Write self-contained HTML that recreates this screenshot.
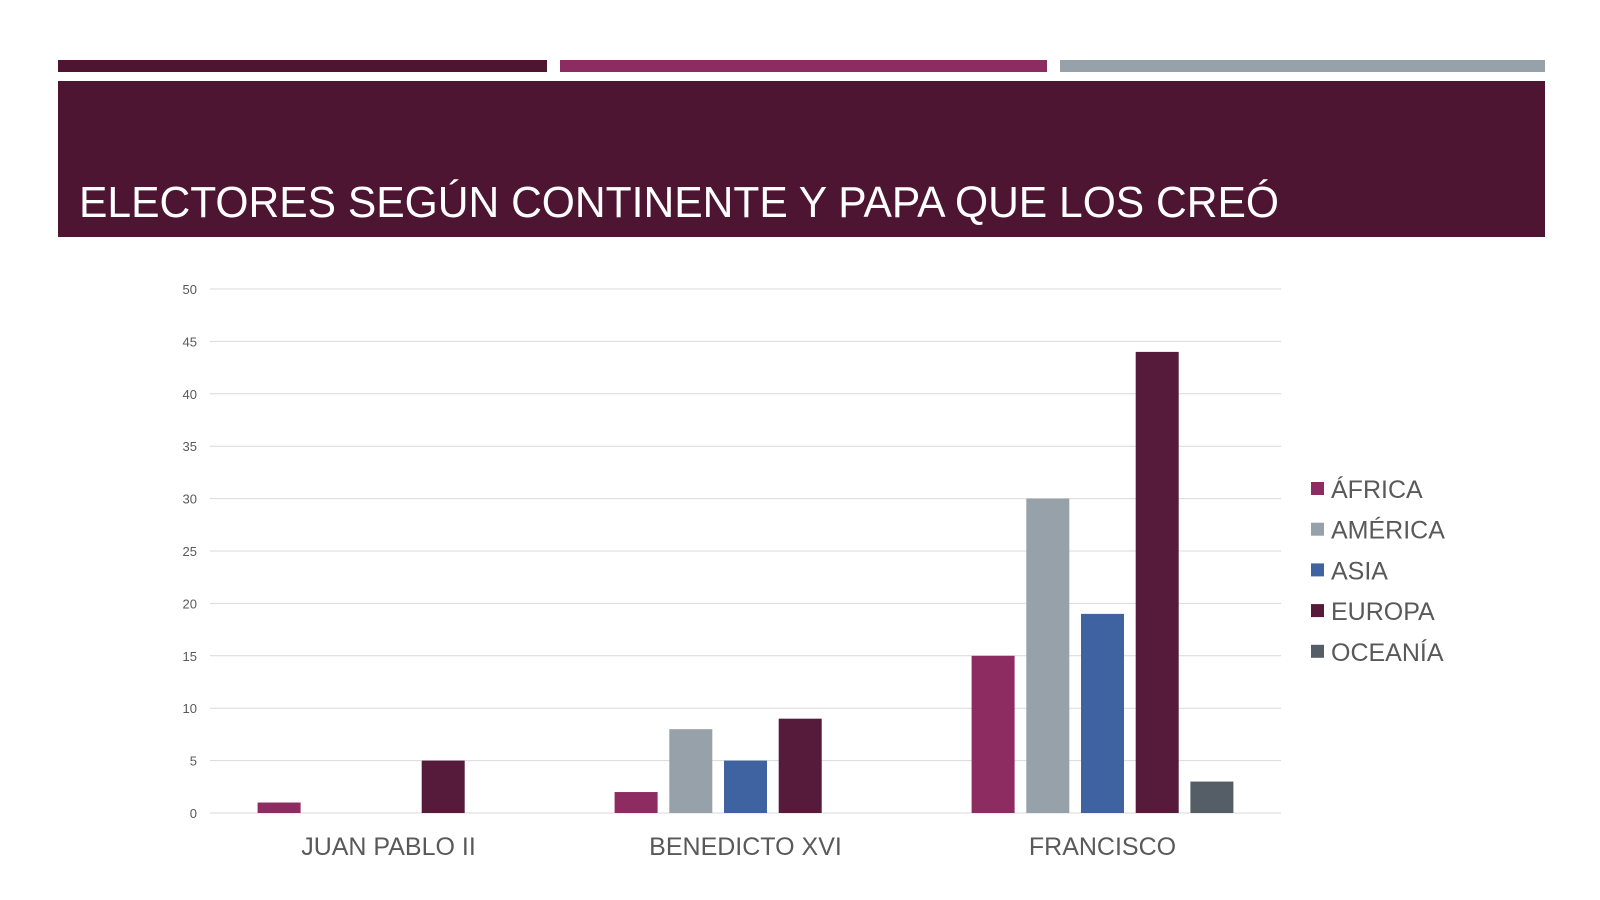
<!DOCTYPE html>
<html><head><meta charset="utf-8"><style>
body{margin:0;background:#fff;font-family:"Liberation Sans",sans-serif;}
svg{display:block}
</style></head><body>
<svg width="1600" height="900" viewBox="0 0 1600 900">
<rect x="58" y="60" width="489" height="12" fill="#4e1533"/>
<rect x="560" y="60" width="487" height="12" fill="#8c2c60"/>
<rect x="1060" y="60" width="485" height="12" fill="#97a1aa"/>
<rect x="58" y="81" width="1487" height="156" fill="#4e1533"/>
<text x="79" y="217" fill="#fff" font-size="44" textLength="1200" lengthAdjust="spacingAndGlyphs">ELECTORES SEGÚN CONTINENTE Y PAPA QUE LOS CREÓ</text>
<g id="grid"></g><g id="bars"></g><g id="labels"></g><g id="legend"></g>
</svg>
<script>
const categories=["JUAN PABLO II","BENEDICTO XVI","FRANCISCO"];
const seriesNames=["ÁFRICA","AMÉRICA","ASIA","EUROPA","OCEANÍA"];
const africa=[1,2,15];
const america=[0,8,30];
const asia=[0,5,19];
const europa=[5,9,44];
const oceania=[0,0,3];
const yTicks=[0,5,10,15,20,25,30,35,40,45,50];
const series=[africa,america,asia,europa,oceania];
const colors=["#8c2c60","#97a1aa","#3f62a0","#561a3a","#555e66"];
const NS="http://www.w3.org/2000/svg";
const x0=210,x1=1281,yTop=289,yBot=813,yMax=50;
const y=v=>yBot-(v/yMax)*(yBot-yTop);
const gw=(x1-x0)/categories.length;
const gc=i=>x0+gw*(i+0.5);
const bw=43,step=54.7;
function mk(t,a,p){const e=document.createElementNS(NS,t);for(const k in a)e.setAttribute(k,a[k]);document.getElementById(p).appendChild(e);return e;}
yTicks.forEach(t=>{
 const l=mk('line',{x1:x0,x2:x1,y1:y(t),y2:y(t),stroke:'#d9d9d9','stroke-width':1},'grid');
 
 
 const tx=mk('text',{x:197,y:y(t)+5,'text-anchor':'end','font-size':13,fill:'#595959'},'grid');
 tx.textContent=t;
 
 
});
categories.forEach((c,i)=>{
 series.forEach((s,j)=>{
  const v=s[i]; if(v<=0) return;
  const bx=gc(i)+(j-2)*step-bw/2;
  const r=mk('rect',{x:bx,y:y(v),width:bw,height:yBot-y(v),fill:colors[j]},'bars');
  
  
 });
 const t=mk('text',{x:gc(i),y:855,'text-anchor':'middle','font-size':25,fill:'#595959'},'labels');
 t.textContent=c;
 
 
});
seriesNames.forEach((n,j)=>{
 const yy=489+j*40.7;
 const sq=mk('rect',{x:1311,y:yy-7,width:13,height:13,fill:colors[j]},'legend');
 
 
 const t=mk('text',{x:1331,y:yy+9,'font-size':25,fill:'#595959'},'legend');
 t.textContent=n;
 
 
});
</script>
</body></html>
